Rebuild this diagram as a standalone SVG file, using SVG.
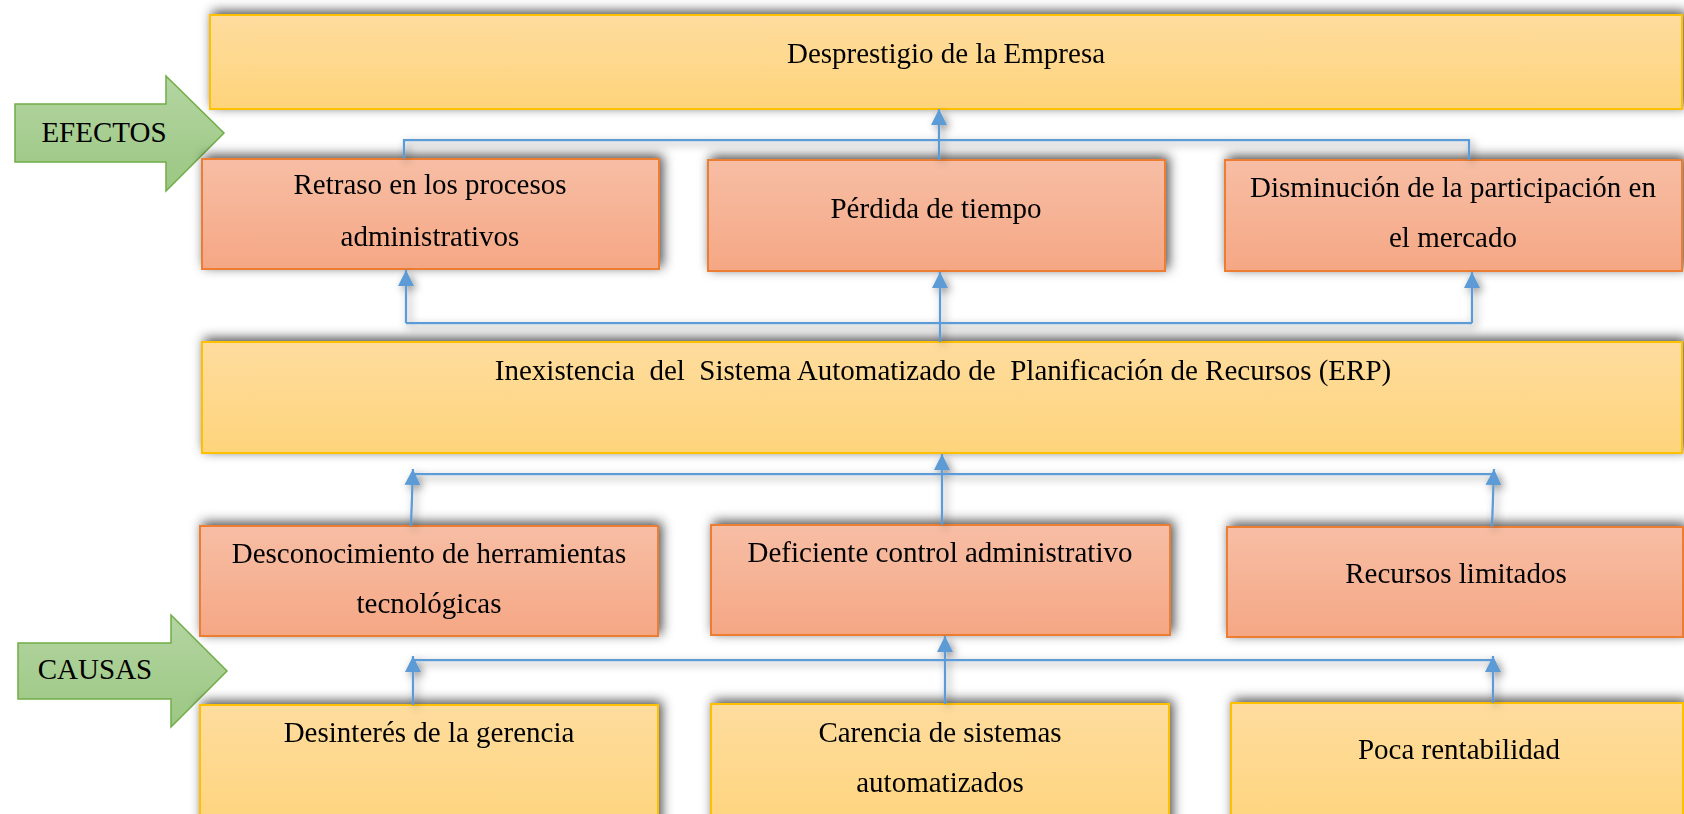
<svg xmlns="http://www.w3.org/2000/svg" width="1684" height="814" viewBox="0 0 1684 814">
<defs>
<linearGradient id="gy" x1="0" y1="0" x2="0" y2="1"><stop offset="0" stop-color="#FEDC9E"/><stop offset="1" stop-color="#FED47B"/></linearGradient>
<linearGradient id="gs" x1="0" y1="0" x2="0" y2="1"><stop offset="0" stop-color="#F7BEA5"/><stop offset="1" stop-color="#F5A784"/></linearGradient>
<linearGradient id="gg" x1="0" y1="0" x2="0" y2="1"><stop offset="0" stop-color="#B4D5A2"/><stop offset="1" stop-color="#9BC782"/></linearGradient>
<filter id="sh" x="-10%" y="-40%" width="120%" height="180%"><feDropShadow dx="3" dy="-3" stdDeviation="6" flood-color="#000" flood-opacity="0.7"/></filter>
<filter id="shl" x="-10%" y="-50%" width="120%" height="200%"><feDropShadow dx="3" dy="3" stdDeviation="4" flood-color="#000" flood-opacity="0.45"/></filter>
<marker id="ah" markerUnits="userSpaceOnUse" markerWidth="16" markerHeight="16" viewBox="0 0 16 16" refX="16" refY="8" orient="auto"><path d="M0,0 L16,8 L0,16 z" fill="#5B9BD5"/></marker>
</defs>
<style>
.y{fill:url(#gy);stroke:#FFC000;stroke-width:2}
.s{fill:url(#gs);stroke:#ED7D31;stroke-width:2}
.g{fill:url(#gg);stroke:#70AD47;stroke-width:1.5}
.t{font-family:"Liberation Serif","Times New Roman",serif;font-size:29px;fill:#000;text-anchor:middle;white-space:pre}
.c{fill:none;stroke:#5B9BD5;stroke-width:2.25}
</style>
<rect width="1684" height="814" fill="#fff"/>

<g id="efectos">
<path class="g" d="M15,104 H166 V76 L224,133 L166,191 V162 H15 Z"/>
<text class="t" x="104" y="142">EFECTOS</text>
</g>
<g id="causas">
<path class="g" d="M18,643 H171 V615 L227,671 L171,727 V699 H18 Z"/>
<text class="t" x="95" y="679">CAUSAS</text>
</g>

<g id="desprestigio" filter="url(#sh)">
<rect class="y" x="210" y="15" width="1472" height="94"/>
<text class="t" x="946" y="63">Desprestigio de la Empresa</text>
</g>

<g id="retraso" filter="url(#sh)">
<rect class="s" x="202" y="159" width="457" height="110"/>
<text class="t" x="430" y="194">Retraso en los procesos</text>
<text class="t" x="430" y="246">administrativos</text>
</g>
<g id="perdida" filter="url(#sh)">
<rect class="s" x="708" y="160" width="457" height="111"/>
<text class="t" x="936" y="218">Pérdida de tiempo</text>
</g>
<g id="disminucion" filter="url(#sh)">
<rect class="s" x="1225" y="160" width="457" height="111"/>
<text class="t" x="1453" y="197">Disminución de la participación en</text>
<text class="t" x="1453" y="247">el mercado</text>
</g>

<g id="erp" filter="url(#sh)">
<rect class="y" x="202" y="342" width="1480" height="111"/>
<text class="t" x="943" y="380">Inexistencia  del  Sistema Automatizado de  Planificación de Recursos (ERP)</text>
</g>

<g id="desconocimiento" filter="url(#sh)">
<rect class="s" x="200" y="526" width="458" height="110"/>
<text class="t" x="429" y="563">Desconocimiento de herramientas</text>
<text class="t" x="429" y="613">tecnológicas</text>
</g>
<g id="deficiente" filter="url(#sh)">
<rect class="s" x="711" y="525" width="459" height="110"/>
<text class="t" x="940" y="562">Deficiente control administrativo</text>
</g>
<g id="recursos" filter="url(#sh)">
<rect class="s" x="1227" y="527" width="456" height="110"/>
<text class="t" x="1456" y="583">Recursos limitados</text>
</g>

<g id="desinteres" filter="url(#sh)">
<rect class="y" x="200" y="705" width="458" height="130"/>
<text class="t" x="429" y="742">Desinterés de la gerencia</text>
</g>
<g id="carencia" filter="url(#sh)">
<rect class="y" x="711" y="704" width="458" height="130"/>
<text class="t" x="940" y="742">Carencia de sistemas</text>
<text class="t" x="940" y="792">automatizados</text>
</g>
<g id="poca" filter="url(#sh)">
<rect class="y" x="1231" y="703" width="452" height="130"/>
<text class="t" x="1459" y="759">Poca rentabilidad</text>
</g>

<g id="connectors" filter="url(#shl)">
<path class="c" d="M404,159 V140 H1469 V160"/>
<path class="c" d="M939,160 V109" marker-end="url(#ah)"/>
<path class="c" d="M406,323 V270" marker-end="url(#ah)"/>
<path class="c" d="M406,323 H1472"/>
<path class="c" d="M1472,323 V272" marker-end="url(#ah)"/>
<path class="c" d="M940,342 V272" marker-end="url(#ah)"/>
<path class="c" d="M413,474 H1494"/>
<path class="c" d="M411,526 L413,469" marker-end="url(#ah)"/>
<path class="c" d="M942,525 V454" marker-end="url(#ah)"/>
<path class="c" d="M1492,527 L1494,469" marker-end="url(#ah)"/>
<path class="c" d="M413,660 H1493"/>
<path class="c" d="M413,705 V656" marker-end="url(#ah)"/>
<path class="c" d="M945,704 V636" marker-end="url(#ah)"/>
<path class="c" d="M1493,703 V656" marker-end="url(#ah)"/>
</g>
</svg>
